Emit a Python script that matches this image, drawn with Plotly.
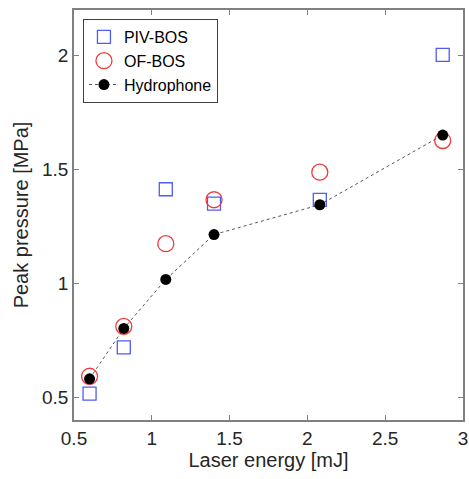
import plotly.graph_objects as go

energy = [0.60, 0.82, 1.09, 1.40, 2.08, 2.87]
piv_bos = [0.516, 0.719, 1.413, 1.350, 1.366, 2.003]
of_bos = [0.592, 0.811, 1.174, 1.367, 1.488, 1.627]
hydrophone = [0.581, 0.802, 1.017, 1.214, 1.345, 1.651]

x_ticks = [0.5, 1, 1.5, 2, 2.5, 3]
y_ticks = [0.5, 1, 1.5, 2]

font = "Liberation Sans, Arial, sans-serif"
fig = go.Figure()
fig.add_trace(go.Scatter(x=energy, y=piv_bos, mode="markers", name="PIV-BOS",
                         marker=dict(symbol="square-open", size=13, color="#4d5cf5",
                                     line=dict(width=1.3, color="#4d5cf5"))))
fig.add_trace(go.Scatter(x=energy, y=of_bos, mode="markers", name="OF-BOS",
                         marker=dict(symbol="circle-open", size=16, color="#f03a3a",
                                     line=dict(width=1.3, color="#f03a3a"))))
fig.add_trace(go.Scatter(x=energy, y=hydrophone, mode="lines+markers", name="Hydrophone",
                         line=dict(color="#444444", width=0.9, dash="dot"),
                         marker=dict(symbol="circle", size=11, color="black")))

axis_common = dict(showline=True, linecolor="#808080", linewidth=1.5, mirror="ticks",
                   ticks="inside", ticklen=5, tickcolor="#808080", tickwidth=1,
                   showgrid=False, zeroline=False, automargin=False,
                   tickfont=dict(family=font, size=19, color="#262626"))
fig.update_layout(
    width=469, height=479,
    margin=dict(l=74, r=6, t=10, b=59),
    plot_bgcolor="white", paper_bgcolor="white",
    font=dict(family=font, color="#262626"),
    xaxis=dict(range=[0.5, 3.0005], tickvals=x_ticks, ticktext=[str(v) for v in x_ticks],
               title=dict(text="Laser energy [mJ]", font=dict(size=20, family=font), standoff=4),
               **axis_common),
    yaxis=dict(range=[0.4, 2.2], tickvals=y_ticks, ticktext=[str(v) for v in y_ticks],
               title=dict(text="Peak pressure [MPa]", font=dict(size=20, family=font), standoff=8),
               **axis_common),
    legend=dict(x=0.023, y=0.978, xanchor="left", yanchor="top",
                bordercolor="#404040", borderwidth=1, bgcolor="white",
                font=dict(family=font, size=16, color="black"),
                tracegroupgap=0, itemsizing="trace"),
    showlegend=True,
)
fig.write_html("out.html", config={"displayModeBar": False},
               post_script="document.body.style.margin='0';document.body.style.overflow='hidden';")
